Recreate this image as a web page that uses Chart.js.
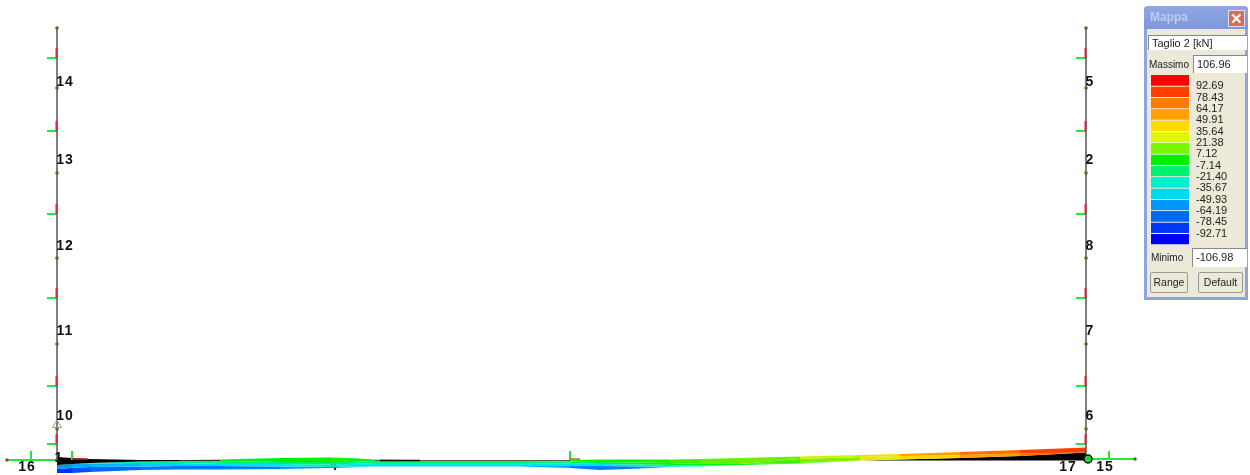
<!DOCTYPE html>
<html>
<head>
<meta charset="utf-8">
<title>Mappa - Taglio 2</title>
<script src="https://cdn.jsdelivr.net/npm/chart.js@4"></script>
<style>
body { margin: 0; background: #fff; width: 1250px; height: 475px; overflow: hidden; position: relative; font-family: "Liberation Sans", Arial, sans-serif; }
#frame { position: absolute; left: 0; top: 0; }
#panel { position: absolute; left: 1144px; top: 6px; width: 104px; height: 294px; box-sizing: border-box; background: #ece9d8; border: 3px solid #8ea4dc; border-top: 0; border-radius: 4px 4px 0 0; color: #222; font-size: 10px; }
#title { position: absolute; left: -3px; top: 0; width: 104px; height: 23px; background: linear-gradient(#8fa8e4, #7d97d8); color: #bccbf0; font-weight: bold; font-size: 12px; line-height: 23px; text-indent: 6px; border-radius: 4px 4px 0 0; }
#close { position: absolute; right: 3px; top: 4px; width: 17px; height: 17px; background: #cf6f60; border: 1px solid #dde; box-sizing: border-box; color: #fff; font-size: 15px; line-height: 15px; text-align: center; text-indent: 0; }
.box { position: absolute; background: #fff; border-top: 1px solid #888; border-left: 1px solid #888; box-sizing: border-box; line-height: 16px; padding-left: 3px; white-space: nowrap; font-size: 11px; }
.lab { position: absolute; white-space: nowrap; }
.btn { position: absolute; top: 266px; height: 21px; box-sizing: border-box; background: #ece9d8; border: 1px solid #999; border-radius: 2px; text-align: center; line-height: 19px; font-size: 10.5px; }
#scala { position: absolute; left: 1151px; top: 75px; }
</style>
</head>
<body>
<canvas id="frame" width="1250" height="475"></canvas>
<div id="panel">
    <div id="title">Mappa<div id="close">&#10005;</div></div>
    <div class="box" style="left:1px;top:29px;width:99px;height:15px;line-height:14px">Taglio 2 [kN]</div>
    <div class="lab" style="left:2px;top:53px">Massimo</div>
    <div class="box" style="left:46px;top:49px;width:54px;height:18px" id="boxMax"></div>
    <div class="lab" style="left:4px;top:246px">Minimo</div>
    <div class="box" style="left:45px;top:242px;width:55px;height:19px" id="boxMin"></div>
    <div class="btn" style="left:3px;width:38px">Range</div>
    <div class="btn" style="left:51px;width:45px">Default</div>
</div>
<canvas id="scala" width="92" height="170"></canvas>
<script>
"use strict"
// legenda
const massimo = 106.96;
const minimo = -106.98;
const valoriScala = [92.69, 78.43, 64.17, 49.91, 35.64, 21.38, 7.12, -7.14, -21.40, -35.67, -49.93, -64.19, -78.45, -92.71];
const coloriScala = ["#ff0000", "#ff4000", "#ff7c00", "#ffa000", "#ffd800", "#dcf800", "#78f800", "#00f000", "#00f070", "#00f0d0", "#00d8f8", "#0098f8", "#0068f8", "#0038f8", "#0000f0"];

// telaio
const pilastri = [57, 1086];
const altezzaTop = 27;
const altezzaBase = 460;
const nodi = [28, 88, 173, 258, 344, 429];
const tacche = [58, 131, 214, 298, 386, 444];
const tratti = [[7, 460, 57, 460], [1086, 459, 1135, 459]];
const stanghette = [31, 72, 570, 1109];
const etichette = ["14", "13", "12", "11", "10", "5", "2", "8", "7", "6", "16", "17", "15", "1"];
const etichetteX = [65, 65, 65, 65, 65, 1090, 1090, 1090, 1090, 1090, 27, 1068, 1105, 59];
const etichetteY = [82, 160, 246, 331, 416, 82, 160, 246, 331, 416, 467, 467, 467, 458];

// diagramma del taglio lungo la trave
const xTrave = [57, 72, 90, 140, 180, 220, 280, 330, 350, 375, 470, 520, 570, 600, 640, 670, 700, 740, 800, 860, 900, 960, 1020, 1086];
const bordoA = [457, 458, 459, 460, 460, 459.5, 458, 457.5, 458, 459.5, 460.5, 460.5, 460, 459.5, 459.5, 459.5, 459, 458, 456.5, 455, 454, 452, 450, 447.5];
const bordoA2 = [457, 458, 459, 460, 460, 461, 462, 462, 462, 461, 461, 461, 461.5, 462, 462.5, 463, 464, 464, 459, 457, 456, 455, 453.5, 452.5];
const bordoB = [457, 458, 459, 460, 460, 461, 462, 462, 462, 461, 461, 461, 461.5, 462, 462.5, 463, 464, 464, 463, 460.5, 459.5, 458, 456, 452.5];
const bordoC = [465, 464, 463, 461.5, 461, 461, 462, 462, 462, 461, 461, 461, 461.5, 462, 462.5, 463, 464, 464, 463, 460.5, 460.5, 460.5, 460.5, 460.5];
const bordoD = [465, 464, 463.5, 463, 463, 464, 464, 464.5, 464, 463, 463, 463, 463.5, 464, 464.5, 465, 465.5, 465, 463.5, 460.5, 460.5, 460.5, 460.5, 460.5];
const bordoE = [469, 468, 467, 466.5, 466, 466, 466.5, 467, 466.5, 466, 466, 466, 466, 466, 466.5, 466.5, 466.5, 465, 463.5, 460.5, 460.5, 460.5, 460.5, 460.5];
const bordoF = [473, 473, 472, 470, 469.5, 469.5, 469, 468, 467.5, 466.5, 466.5, 466.5, 468, 470, 468.5, 467, 466.5, 465, 463.5, 460.5, 460.5, 460.5, 460.5, 460.5];

const coloriA = ["#000", "#000", "#000", "#000", "#00e850", "#00ee20", "#00f000", "#20f000", "#00ee30", "#00ee50", "#00ee50", "#00ee40", "#10f000", "#10f000", "#20f000", "#40f000", "#60f000", "#70f000", "#d0f000", "#ffd800", "#ffa000", "#ff7000", "#ff4000"];
const coloriA2 = ["#000", "#000", "#000", "#000", "#000", "#000", "#000", "#000", "#000", "#000", "#000", "#000", "#000", "#000", "#000", "#000", "#000", "#40f000", "#80f000", "#e0f000", "#ffd800", "#ffa000", "#ff7000"];
const coloriB = ["#000", "#000", "#000", "#000", "#000", "#000", "#000", "#000", "#000", "#000", "#000", "#000", "#000", "#000", "#000", "#000", "#000", "#000", "#000", "#000", "#000", "#000", "#000"];
const coloriC = ["#00d8f8", "#00e0f0", "#00e8c0", "#00e8a0", "#00f090", "#00f070", "#00f050", "#00f060", "#00f070", "#00f070", "#00f070", "#00f070", "#00f060", "#00f050", "#00f040", "#00f030", "#00f020", "#00f000", "#00f000", "#00f000", "#00f000", "#00f000", "#00f000"];
const coloriD = ["#0098f8", "#00a8f8", "#00b8f8", "#00d0f8", "#00d8f8", "#00e0f0", "#00e8e0", "#00e8e0", "#00e8e0", "#00e8e0", "#00e8e0", "#00e8e0", "#00e0f0", "#00e0f0", "#00e8e0", "#00f0d0", "#00f0c0", "#00f0a0", "#00f000", "#00f000", "#00f000", "#00f000", "#00f000"];
const coloriE = ["#0030f0", "#0050f0", "#0068f8", "#0078f8", "#0078f8", "#0080f8", "#0098f8", "#00b0f8", "#00c8f8", "#00d0f8", "#00d0f8", "#00b0f8", "#0080f8", "#0080f8", "#00a0f8", "#00c8f8", "#00e0f0", "#00f000", "#00f000", "#00f000", "#00f000", "#00f000", "#00f000"];

const VERDE = "#22e83c";

function banda(bordo, colori) {
    return {
        data: xTrave.map((x, i) => ({ x: x, y: bordo[i] })),
        showLine: true,
        borderWidth: 0,
        pointRadius: 0,
        fill: colori ? "+1" : false,
        backgroundColor: colori ? colori[0] : "transparent",
        segment: colori ? { backgroundColor: c => colori[c.p0DataIndex] } : undefined
    };
}

function linea(punti, colore, spessore) {
    return { data: punti, showLine: true, borderColor: colore, borderWidth: spessore, pointRadius: 0, fill: false };
}

let tratteggi = [];
let rossi = [];
pilastri.forEach(x => {
    tacche.forEach(y => {
        tratteggi.push({ x: x - 10, y: y }, { x: x, y: y }, { x: null, y: null });
        rossi.push({ x: x - 0.5, y: y - 10 }, { x: x - 0.5, y: y }, { x: null, y: null });
    });
});

let verdiOriz = [];
tratti.forEach(t => verdiOriz.push({ x: t[0], y: t[1] }, { x: t[2], y: t[3] }, { x: null, y: null }));
stanghette.forEach(x => verdiOriz.push({ x: x, y: 451 }, { x: x, y: 460 }, { x: null, y: null }));

let puntiNodi = [];
pilastri.forEach(x => nodi.forEach(y => puntiNodi.push({ x: x, y: y })));
tratti.forEach(t => puntiNodi.push({ x: t[0], y: t[1] }, { x: t[2], y: t[3] }));

function impostaTesto(ctx) {
    ctx.font = "bold 14px 'Liberation Sans'";
    ctx.letterSpacing = "1px";
    ctx.fillStyle = "#111";
    ctx.textAlign = "center";
    ctx.textBaseline = "middle";
}

const etichettePlugin = {
    id: "etichette",
    beforeDatasetsDraw(chart) {
        let ctx = chart.ctx;
        ctx.save();
        impostaTesto(ctx);
        ctx.fillText("4", chart.scales.x.getPixelForValue(334), chart.scales.y.getPixelForValue(466));
        ctx.restore();
    },
    afterDatasetsDraw(chart) {
        let ctx = chart.ctx;
        ctx.save();
        impostaTesto(ctx);
        etichette.forEach((t, i) => {
            ctx.fillText(t, chart.scales.x.getPixelForValue(etichetteX[i]), chart.scales.y.getPixelForValue(etichetteY[i]));
        });
        ctx.restore();
    }
};

// i dataset con indice basso vengono disegnati sopra: segni prima, bande dopo
new Chart(document.getElementById("frame"), {
    type: "scatter",
    data: {
        datasets: [
            { data: [{ x: 1088, y: 459 }], pointRadius: 4, pointBackgroundColor: "#18d838", pointBorderColor: "#111", pointBorderWidth: 1.5 },
            { data: [{ x: 57, y: 425 }], pointStyle: "triangle", pointRadius: 5, pointBackgroundColor: "transparent", pointBorderColor: "#999", pointBorderWidth: 1 },
            { data: puntiNodi, pointRadius: 1.8, pointBackgroundColor: "#6d5f28", pointBorderWidth: 0 },
            linea([{ x: 570, y: 459 }, { x: 580, y: 459 }], "#a07030", 1.5),
            linea([{ x: 72, y: 459 }, { x: 88, y: 459 }], "#c02818", 1.5),
            linea(rossi, "#e8203c", 2),
            linea([{ x: 57, y: altezzaTop }, { x: 57, y: altezzaBase }], "#555", 1.5),
            linea([{ x: 1086, y: altezzaTop }, { x: 1086, y: altezzaBase }], "#555", 1.5),
            linea(tratteggi, VERDE, 2),
            linea(verdiOriz, VERDE, 2),
            linea([{ x: 380, y: 460.5 }, { x: 420, y: 460.5 }], "#111", 1.5),
            linea([{ x: 180, y: 460.5 }, { x: 220, y: 460.5 }], "#333", 1),
            linea([{ x: 375, y: 460.5 }, { x: 570, y: 460.5 }], "#5a5a4a", 1),
            banda(bordoA, coloriA),
            banda(bordoA2, coloriA2),
            banda(bordoB, coloriB),
            banda(bordoC, coloriC),
            banda(bordoD, coloriD),
            banda(bordoE, coloriE),
            banda(bordoF, null)
        ]
    },
    options: {
        responsive: false,
        animation: false,
        layout: { autoPadding: false, padding: 0 },
        plugins: { legend: { display: false }, tooltip: { enabled: false } },
        scales: {
            x: { display: false, min: 0, max: 1250 },
            y: { display: false, min: 0, max: 475, reverse: true }
        }
    },
    plugins: [etichettePlugin]
});

// scala colori: bande fra un valore e il successivo
let limiti = [massimo].concat(valoriScala, [minimo]);
new Chart(document.getElementById("scala"), {
    type: "bar",
    data: {
        labels: ["Taglio 2 [kN]"],
        datasets: coloriScala.map((c, i) => ({
            data: [[limiti[i + 1], limiti[i]]],
            backgroundColor: c,
            borderColor: "#f2f2e0",
            borderWidth: { bottom: 1 },
            borderSkipped: false,
            grouped: false,
            barPercentage: 1,
            categoryPercentage: 1
        }))
    },
    options: {
        responsive: false,
        animation: false,
        plugins: { legend: { display: false }, tooltip: { enabled: false } },
        layout: { padding: 0 },
        scales: {
            x: { display: false },
            y: {
                position: "right",
                min: minimo,
                max: massimo,
                grid: { display: false, drawTicks: false },
                border: { display: false },
                afterFit: s => { s.width = 54; s.paddingTop = 0; s.paddingBottom = 0; },
                afterBuildTicks: s => { s.ticks = valoriScala.map(v => ({ value: v })); },
                ticks: {
                    autoSkip: false,
                    padding: 7,
                    color: "#222",
                    font: { family: "Liberation Sans", size: 11 },
                    callback: v => v.toFixed(2)
                }
            }
        }
    }
});

document.getElementById("boxMax").textContent = massimo.toFixed(2);
document.getElementById("boxMin").textContent = minimo.toFixed(2);
</script>
</body>
</html>
